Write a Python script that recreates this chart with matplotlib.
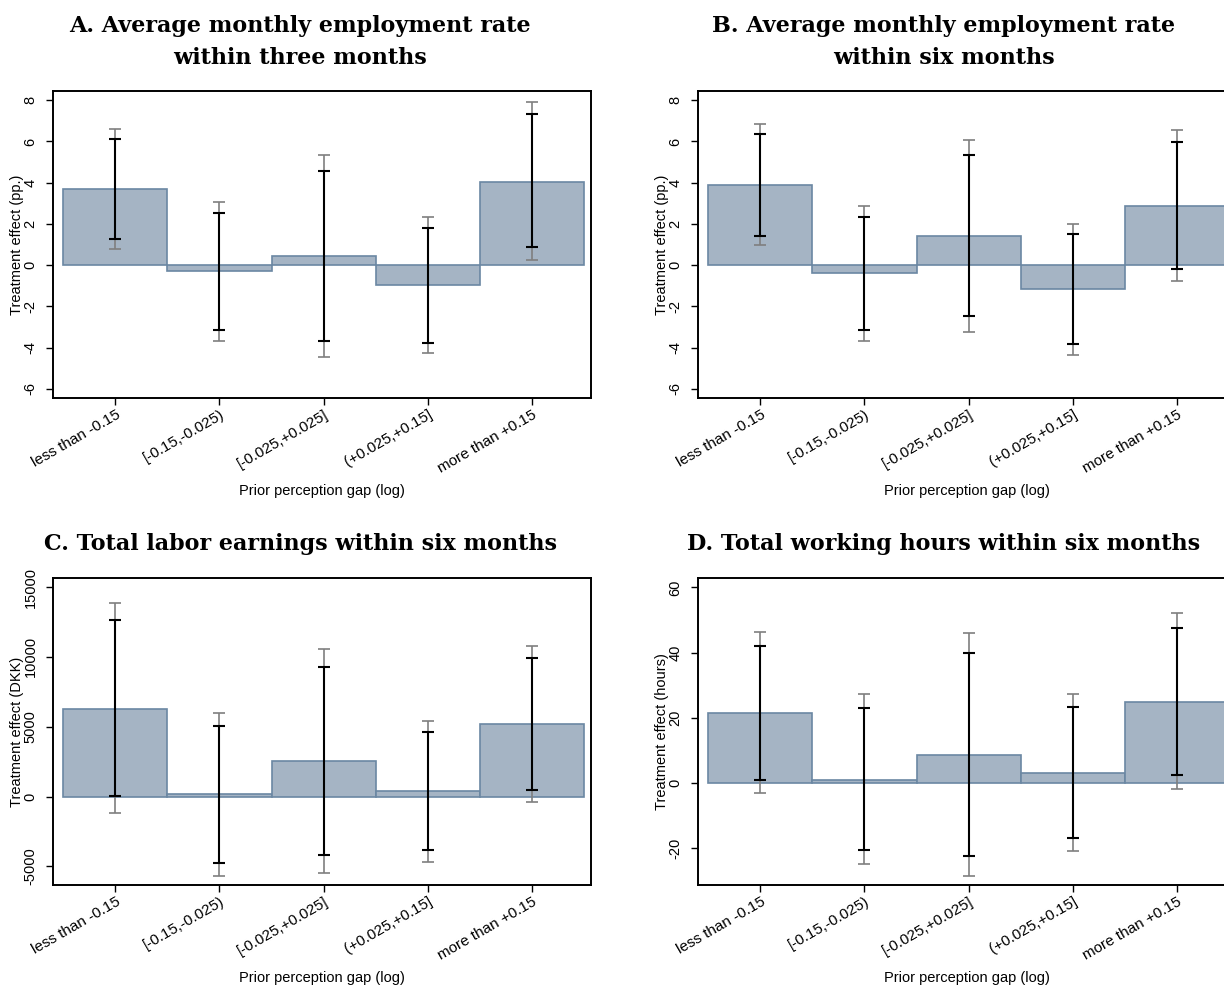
import numpy as np
import matplotlib
matplotlib.use("Agg")
import matplotlib.pyplot as plt

plt.rcParams["font.family"] = ["Liberation Sans", "DejaVu Sans"]

W, H = 1224, 989

categories = ["less than -0.15", "[-0.15,-0.025)", "[-0.025,+0.025]",
              "(+0.025,+0.15]", "more than +0.15"]

# A. employment rate within three months (pp.)
a_est = [3.69, -0.29, 0.44, -0.96, 4.05]
a_lo90 = [1.26, -3.14, -3.68, -3.77, 0.86]
a_hi90 = [6.12, 2.53, 4.58, 1.81, 7.32]
a_lo95 = [0.79, -3.69, -4.45, -4.29, 0.24]
a_hi95 = [6.59, 3.06, 5.36, 2.35, 7.90]

# B. employment rate within six months (pp.)
b_est = [3.87, -0.37, 1.41, -1.15, 2.87]
b_lo90 = [1.43, -3.14, -2.49, -3.82, -0.19]
b_hi90 = [6.36, 2.35, 5.33, 1.49, 5.98]
b_lo95 = [0.96, -3.68, -3.24, -4.34, -0.78]
b_hi95 = [6.85, 2.87, 6.07, 2.01, 6.56]

# C. labor earnings within six months (DKK)
c_est = [6305, 167, 2532, 382, 5183]
c_lo90 = [30, -4753, -4204, -3845, 502]
c_hi90 = [12635, 5087, 9291, 4610, 9888]
c_lo95 = [-1194, -5684, -5493, -4657, -406]
c_hi95 = [13852, 6019, 10580, 5445, 10772]

# D. working hours within six months
d_est = [21.4, 1.1, 8.5, 3.0, 24.8]
d_lo90 = [0.9, -20.6, -22.4, -16.9, 2.4]
d_hi90 = [42.2, 23.1, 40.0, 23.4, 47.7]
d_lo95 = [-3.0, -24.7, -28.3, -20.8, -1.9]
d_hi95 = [46.2, 27.2, 45.9, 27.2, 52.1]

BAR_FILL = "#a5b4c4"
BAR_EDGE = "#6b87a3"


def px_axes(fig, left, top, right, bottom):
    return fig.add_axes([left / W, 1 - bottom / H, (right - left) / W, (bottom - top) / H])


def draw_panel(ax, est, lo90, hi90, lo95, hi95, ylim, yticks, ylabel):
    x = np.arange(len(categories))
    est = np.array(est)
    ax.bar(x, est, width=1.0, color=BAR_FILL, edgecolor=BAR_EDGE, linewidth=1.2, zorder=1)

    lo95, hi95 = np.array(lo95), np.array(hi95)
    lo90, hi90 = np.array(lo90), np.array(hi90)
    ax.errorbar(x, (lo95 + hi95) / 2, yerr=(hi95 - lo95) / 2, fmt="none",
                ecolor="#7f7f7f", elinewidth=1.2, capsize=4, capthick=1.2, zorder=2)
    ax.errorbar(x, (lo90 + hi90) / 2, yerr=(hi90 - lo90) / 2, fmt="none",
                ecolor="black", elinewidth=1.5, capsize=4, capthick=1.5, zorder=3)

    ax.set_xlim(-0.6, 4.57)
    ax.set_ylim(*ylim)
    ax.set_yticks(yticks)
    ax.set_yticklabels([str(t) for t in yticks], rotation=90, va="center", fontsize=10.5)
    ax.set_xticks(x)
    ax.set_xticklabels(categories, rotation=30, ha="right", va="top",
                       rotation_mode="anchor", fontsize=11)
    ax.tick_params(axis="both", direction="out", length=5, width=1.0)
    ax.tick_params(axis="y", pad=6)
    ax.tick_params(axis="x", pad=2)
    for s in ax.spines.values():
        s.set_linewidth(1.4)

    ax.set_ylabel(ylabel, fontsize=10.5)
    ax.yaxis.set_label_coords(-0.054, 0.5)
    ax.set_xlabel("Prior perception gap (log)", fontsize=10.5)
    ax.xaxis.set_label_coords(0.5, -0.28)


fig = plt.figure(figsize=(W / 100, H / 100), dpi=100)

ax_a = px_axes(fig, 53, 91, 591, 398)
ax_b = px_axes(fig, 698, 91, 1236, 398)
ax_c = px_axes(fig, 53, 578, 591, 885)
ax_d = px_axes(fig, 698, 578, 1236, 885)

draw_panel(ax_a, a_est, a_lo90, a_hi90, a_lo95, a_hi95, (-6.45, 8.45),
           [-6, -4, -2, 0, 2, 4, 6, 8], "Treatment effect (pp.)")
draw_panel(ax_b, b_est, b_lo90, b_hi90, b_lo95, b_hi95, (-6.45, 8.45),
           [-6, -4, -2, 0, 2, 4, 6, 8], "Treatment effect (pp.)")
draw_panel(ax_c, c_est, c_lo90, c_hi90, c_lo95, c_hi95, (-6330, 15650),
           [-5000, 0, 5000, 10000, 15000], "Treatment effect (DKK)")
draw_panel(ax_d, d_est, d_lo90, d_hi90, d_lo95, d_hi95, (-31.2, 62.9),
           [-20, 0, 20, 40, 60], "Treatment effect (hours)")

title_kw = dict(ha="center", va="center", fontsize=16, fontweight="bold",
                family=["DejaVu Serif"], linespacing=1.6)
fig.text(300 / W, 1 - 42 / H, "A. Average monthly employment rate\nwithin three months", **title_kw)
fig.text(944 / W, 1 - 42 / H, "B. Average monthly employment rate\nwithin six months", **title_kw)
fig.text(300 / W, 1 - 544 / H, "C. Total labor earnings within six months", **title_kw)
fig.text(944 / W, 1 - 544 / H, "D. Total working hours within six months", **title_kw)

fig.savefig("out.png", dpi=100)
